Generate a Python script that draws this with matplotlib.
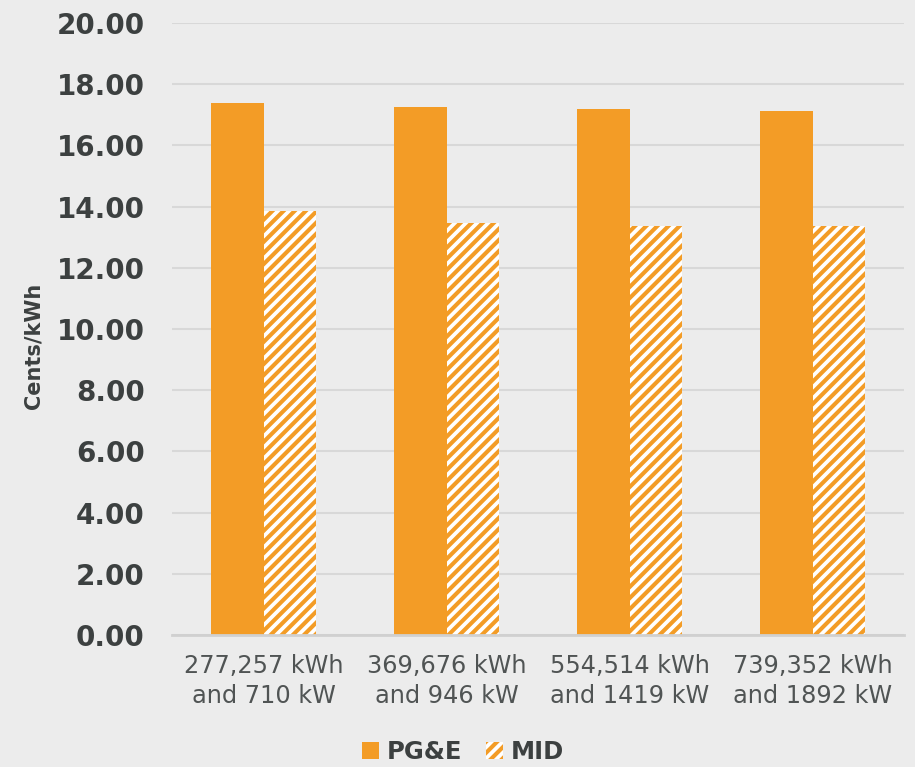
import matplotlib
matplotlib.use("Agg")
import matplotlib.pyplot as plt
import numpy as np
from matplotlib.patches import Patch

# Usage tiers and rates (cents per kWh)
categories = ["277,257 kWh\nand 710 kW", "369,676 kWh\nand 946 kW",
              "554,514 kWh\nand 1419 kW", "739,352 kWh\nand 1892 kW"]
pge = [17.38, 17.26, 17.19, 17.13]
mid = [13.87, 13.47, 13.38, 13.37]
yticks = np.arange(0, 20.01, 2)

bg = "#ececec"
orange = "#f39c26"
text_dark = "#3c4040"
text_mid = "#505454"
grid_c = "#d8d8d8"

plt.rcParams["hatch.linewidth"] = 2.7
plt.rcParams["font.family"] = ["DejaVu Sans"]

fig = plt.figure(figsize=(9.15, 7.67), dpi=100, facecolor=bg)
ax = fig.add_axes([0.1885, 0.1721, 0.80, 0.7979], facecolor=bg)

x = np.arange(len(categories))
w = 0.287
ax.bar(x - w / 2, pge, width=w, color=orange, linewidth=0, zorder=3)
ax.bar(x + w / 2, mid, width=w, color=orange, edgecolor="white",
       hatch="///", linewidth=0, zorder=3)

ax.set_xlim(-0.5, len(categories) - 0.5)
ax.set_ylim(0, 20)
ax.set_yticks(yticks)
ax.set_yticklabels([f"{v:.2f}" for v in yticks], fontsize=20,
                   fontweight="bold", color=text_dark)
ax.set_xticks(x)
ax.set_xticklabels(categories, fontsize=17.3, color=text_mid, linespacing=1.3)
ax.tick_params(axis="y", length=0, pad=20)
ax.tick_params(axis="x", length=0, pad=14)

ax.grid(axis="y", color=grid_c, linewidth=1.5, zorder=0)
for s in ["top", "right", "left"]:
    ax.spines[s].set_visible(False)
ax.spines["bottom"].set_color("#d0d0d0")
ax.spines["bottom"].set_linewidth(2)
ax.spines["bottom"].set_zorder(4)

ax.set_ylabel("Cents/kWh", fontsize=15, fontweight="bold", color=text_dark)
ax.yaxis.set_label_coords(-0.176, 0.472)

handles = [Patch(facecolor=orange, linewidth=0, label="PG&E"),
           Patch(facecolor=orange, edgecolor="white", hatch="///",
                 linewidth=0, label="MID")]
fig.legend(handles=handles, loc="center", bbox_to_anchor=(0.506, 0.02),
           ncol=2, frameon=False, handlelength=0.7, handleheight=0.7,
           handletextpad=0.3, columnspacing=1.0,
           prop={"size": 17.5, "weight": "bold"}, labelcolor=text_dark)

fig.savefig("out.png", dpi=100, facecolor=bg)
